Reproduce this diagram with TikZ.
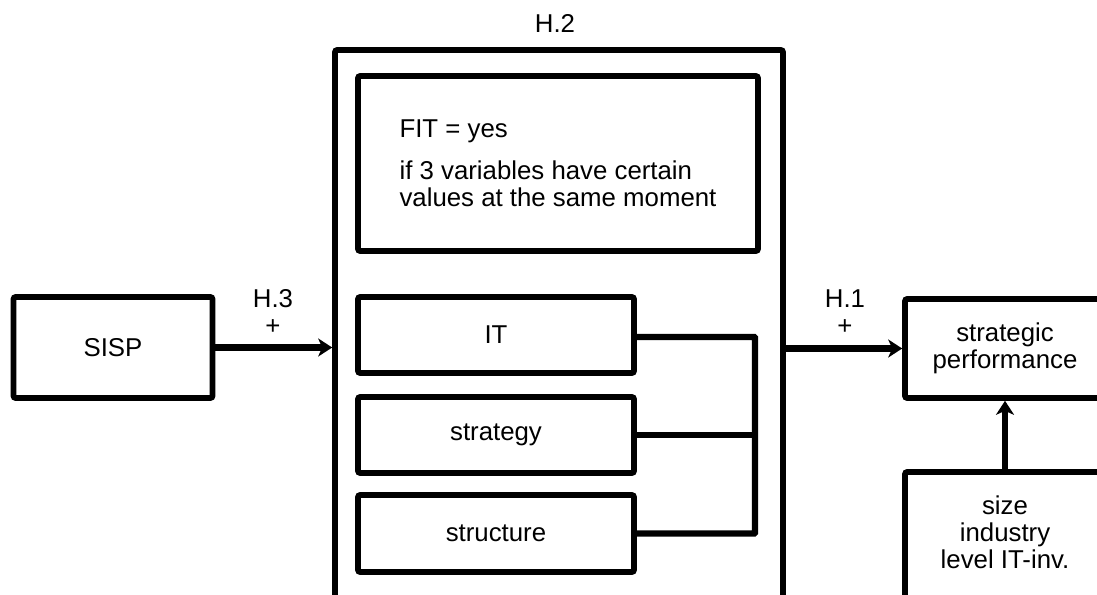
\documentclass[tikz,border=0pt]{standalone}
\usepackage{fontspec}
\setmainfont{Liberation Sans}
\usetikzlibrary{arrows.meta,calc}

\tikzset{
  box/.style={draw, line width=5.6pt, rounded corners=2pt, inner sep=0pt,
    align=center, font=\fontsize{25.8}{27}\selectfont},
  txt/.style={inner sep=0pt, align=center, font=\fontsize{25.8}{27}\selectfont},
  link/.style={line width=6.4pt},
  arr/.style={line width=6.4pt, -{Stealth[length=14pt,width=18pt,inset=4pt]}},
}

\begin{document}
\begin{tikzpicture}[x=1pt,y=-1pt]
\useasboundingbox (0,0) rectangle (1097,594);
\clip (0,0) rectangle (1097,594);

% input
\node[box, minimum width=199pt, minimum height=101pt] (sisp) at (113,347.5) {SISP};

% fit block with its three variables
\node[box, minimum width=448pt, minimum height=700pt] (fit) at (559,400) {};
\node[txt] (h2) at (555,23) {H.2};
\node[box, minimum width=400pt, minimum height=175pt, align=left] (def) at (558,163.5)
  {FIT = yes\\[15pt]if 3 variables have certain\\values at the same moment};
\node[box, minimum width=276pt, minimum height=76pt] (it) at (496,335) {IT};
\node[box, minimum width=276pt, minimum height=76pt] (strat) at (496,435) {strategy};
\node[box, minimum width=276pt, minimum height=77pt] (struct) at (496,533.5) {structure};
\coordinate (bus) at (755,337);
\draw[link, rounded corners=1pt] (it.east |- bus) -- (bus) -- (bus |- struct.east) -- (struct.east);
\draw[link] (strat.east) -- (strat.east -| bus);

% outcome and controls
\node[box, minimum width=200pt, minimum height=99pt] (perf) at (1005,348.5) {strategic\\performance};
\node[box, minimum width=200pt, minimum height=200pt] (ctrl) at (1005,572) {};
\node[txt] (ctrltxt) at (1005,532) {size\\industry\\level IT-inv.};

% hypotheses
\draw[arr] (sisp.east) -- (sisp.east -| fit.west);
\node[txt] (h3) at (273,312) {H.3\\+};
\draw[arr] (fit.east |- perf.west) -- (perf.west);
\node[txt] (h1) at (845,312) {H.1\\+};
\draw[arr] (ctrl.north) -- (perf.south);
\end{tikzpicture}
\end{document}
